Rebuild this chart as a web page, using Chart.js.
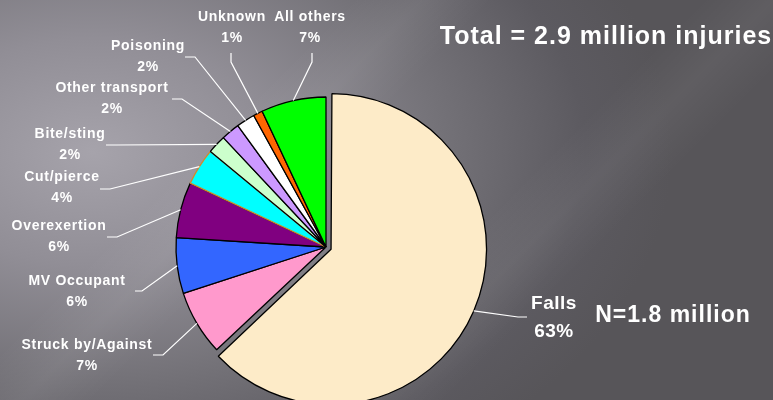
<!DOCTYPE html>
<html lang="en">
<head>
    <meta charset="UTF-8">
    <title>Injuries by cause</title>
    <script src="https://cdn.jsdelivr.net/npm/chart.js@4.4.1/dist/chart.umd.min.js"></script>
    <style>
        body { margin: 0; }
        #wrap {
            position: relative;
            width: 773px;
            height: 400px;
            background:
                linear-gradient(135deg, rgba(255,255,255,0) 30%, rgba(255,255,255,0.06) 36%, rgba(255,255,255,0) 42%, rgba(255,255,255,0) 60%, rgba(255,255,255,0.05) 66%, rgba(255,255,255,0) 72%),
                radial-gradient(ellipse 75% 95% at 12% 38%, #a6a3ab 0%, #918e96 30%, #747278 60%, #5c5a60 85%, #575559 100%);
        }
    </style>
</head>
<body>
<div id="wrap"><canvas id="myChart"></canvas></div>
<script>
    // data
    let causes = ['Falls', 'Struck by/Against', 'MV Occupant', 'Overexertion', 'Cut/pierce',
        'Bite/sting', 'Other transport', 'Poisoning', 'Unknown', 'All others'];
    let percents = [63, 7, 6, 6, 4, 2, 2, 2, 1, 7];
    let sliceColors = ['#fdebc8', '#ff99cc', '#3366ff', '#800080', '#00ffff',
        '#ccffcc', '#cc99ff', '#ffffff', '#ff6600', '#00ff00'];
    let titleText = 'Total = 2.9 million injuries';
    let noteText = 'N=1.8 million';

    // label layout: text centre [x, y of first line], leader tail [x1, y1, x2, y2]
    let labelText = [[554, 304], [87, 345], [77, 281], [59, 226], [62, 177],
        [70, 134], [112, 88], [148, 46], [232, 17], [310, 17]];
    let labelTail = [[527, 317, 518, 317], [153, 355, 163, 355], [135, 291, 142, 291], [107, 237, 117, 237], [100, 189, 110, 189],
        [106, 145, 116, 145], [172, 99, 182, 99], [185, 57, 195, 57], [231, 53, 231, 62], [312, 53, 312, 62]];

    const labelPlugin = {
        id: 'pieLabels',
        afterDatasetsDraw(chart) {
            const ctx = chart.ctx;
            const meta = chart.getDatasetMeta(0);
            ctx.save();
            ctx.strokeStyle = '#ffffff';
            ctx.fillStyle = '#ffffff';
            ctx.lineWidth = 1.2;
            meta.data.forEach(function (arc, i) {
                const p = arc.getProps(['x', 'y', 'startAngle', 'endAngle', 'outerRadius'], true);
                const mid = (p.startAngle + p.endAngle) / 2;
                // chart.js shifts an exploded arc by offset/4 and grows it by offset/4
                const off = (arc.options.offset || 0) / 2;
                const ax = p.x + Math.cos(mid) * (p.outerRadius + off);
                const ay = p.y + Math.sin(mid) * (p.outerRadius + off);
                const t = labelTail[i];
                ctx.beginPath();
                ctx.moveTo(t[0], t[1]);
                ctx.lineTo(t[2], t[3]);
                ctx.lineTo(ax, ay);
                ctx.stroke();

                const big = i === 0;
                ctx.font = (big ? 'bold 19px' : 'bold 14px') + ' "Liberation Sans", Arial, sans-serif';
                ctx.letterSpacing = big ? '0.5px' : '0.7px';
                ctx.textAlign = 'center';
                ctx.textBaseline = 'middle';
                const lt = labelText[i];
                ctx.fillText(causes[i], lt[0], lt[1]);
                ctx.fillText(percents[i] + '%', lt[0], lt[1] + (big ? 28 : 21));
            });

            ctx.textAlign = 'center';
            ctx.textBaseline = 'alphabetic';
            ctx.font = 'bold 25px "Liberation Sans", Arial, sans-serif';
            ctx.letterSpacing = '1px';
            ctx.fillText(titleText, 606, 44);
            ctx.textBaseline = 'middle';
            ctx.font = 'bold 23px "Liberation Sans", Arial, sans-serif';
            ctx.fillText(noteText, 673, 316);
            ctx.restore();
        }
    };

    let ctx = document.getElementById('myChart').getContext('2d');
    let chart = new Chart(ctx, {
        type: 'pie',
        data: {
            labels: causes,
            datasets: [{
                data: percents,
                backgroundColor: sliceColors,
                borderColor: ['#000', '#000', '#000', '#000', '#d08a2a', '#000', '#000', '#000', '#000', '#000'],
                borderWidth: 1.3,
                offset: [22, 0, 0, 0, 0, 0, 0, 0, 0, 0]
            }]
        },
        options: {
            responsive: true,
            maintainAspectRatio: false,
            animation: false,
            radius: 150,
            layout: { padding: { left: 0, right: 121, top: 94, bottom: 0 } },
            plugins: {
                legend: { display: false },
                tooltip: { enabled: false }
            }
        },
        plugins: [labelPlugin]
    });
</script>
</body>
</html>
